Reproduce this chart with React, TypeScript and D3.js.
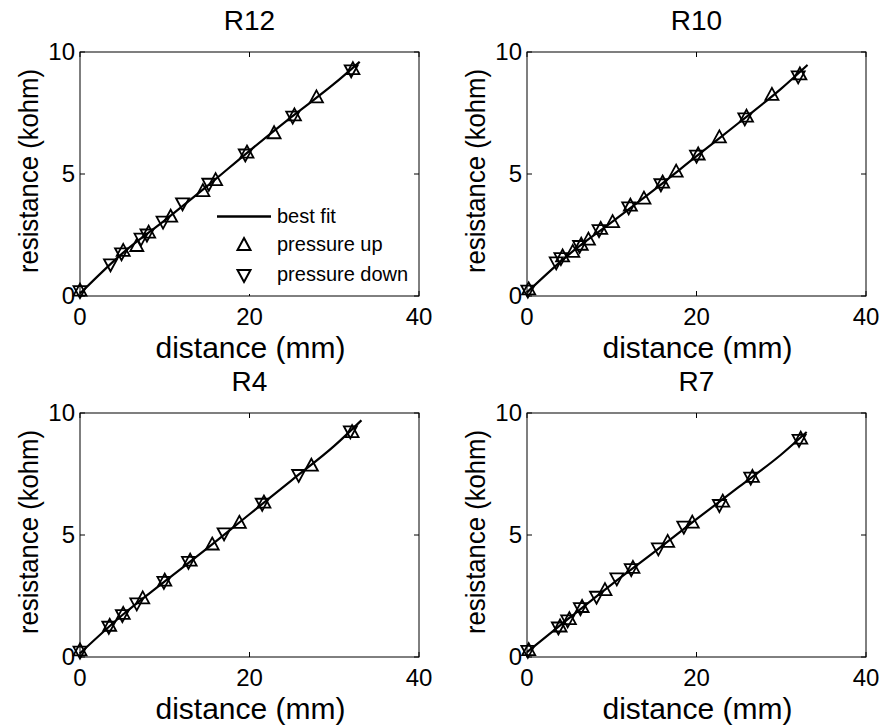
import React from 'react';
import * as d3 from 'd3';

// ---- data ----
const titles = ['R12', 'R10', 'R4', 'R7'];
const xTicks = [0, 20, 40];
const yTicks = [0, 5, 10];
const xLabel = 'distance (mm)';
const yLabel = 'resistance (kohm)';
const legendLabels = ['best fit', 'pressure up', 'pressure down'];

// R12
const r12UpX = [0, 5.1, 6.7, 8.1, 10.7, 14.5, 16.0, 19.7, 22.9, 25.3, 27.9, 32.2];
const r12UpY = [0.22, 1.85, 2.05, 2.6, 3.25, 4.3, 4.75, 5.88, 6.67, 7.4, 8.14, 9.3];
const r12DownX = [0, 3.6, 4.9, 7.2, 7.9, 9.8, 12.1, 15.2, 19.5, 25.1, 32.0];
const r12DownY = [0.2, 1.3, 1.75, 2.35, 2.52, 3.05, 3.8, 4.6, 5.8, 7.35, 9.25];
const r12FitX = [0, 5, 10, 15, 20, 25, 30, 33];
const r12FitY = [0.1, 1.75, 3.1, 4.5, 5.95, 7.35, 8.7, 9.6];

// R10
const r10UpX = [0.2, 4.2, 5.4, 6.4, 7.25, 8.7, 10.1, 12.2, 13.8, 16.0, 17.6, 20.2, 22.7, 25.9, 28.9, 32.2];
const r10UpY = [0.27, 1.62, 1.81, 2.1, 2.31, 2.75, 3.03, 3.7, 3.99, 4.65, 5.1, 5.8, 6.5, 7.35, 8.24, 9.08];
const r10DownX = [0.1, 3.45, 4.0, 6.2, 8.5, 12.0, 15.8, 20.0, 25.7, 32.0];
const r10DownY = [0.22, 1.38, 1.55, 2.05, 2.7, 3.63, 4.58, 5.75, 7.28, 9.0];
const r10FitX = [0, 5, 10, 15, 20, 25, 30, 33.1];
const r10FitY = [0.15, 1.72, 3.03, 4.35, 5.73, 7.1, 8.5, 9.47];

// R4
const r4UpX = [0, 3.5, 5.1, 7.4, 10.0, 13.0, 15.6, 18.8, 21.7, 27.3, 32.1];
const r4UpY = [0.27, 1.28, 1.77, 2.4, 3.13, 3.95, 4.61, 5.5, 6.33, 7.84, 9.22];
const r4DownX = [0, 3.4, 5.0, 6.7, 9.9, 12.8, 17.0, 21.5, 25.8, 31.9];
const r4DownY = [0.22, 1.24, 1.72, 2.2, 3.08, 3.9, 5.07, 6.28, 7.46, 9.25];
const r4FitX = [0, 5, 10, 15, 20, 25, 30, 33.2];
const r4FitY = [0.15, 1.72, 3.1, 4.45, 5.85, 7.25, 8.65, 9.7];

// R7
const r7UpX = [0.2, 3.9, 5.0, 6.5, 9.2, 12.5, 16.6, 19.5, 23.1, 26.6, 32.3];
const r7UpY = [0.28, 1.25, 1.55, 2.05, 2.74, 3.65, 4.72, 5.51, 6.37, 7.38, 8.95];
const r7DownX = [0.1, 3.7, 4.8, 6.3, 8.2, 10.6, 12.3, 15.5, 18.5, 22.7, 26.4, 32.1];
const r7DownY = [0.25, 1.21, 1.5, 2.0, 2.47, 3.22, 3.6, 4.45, 5.34, 6.23, 7.35, 8.9];
const r7FitX = [0, 5, 10, 15, 20, 25, 30, 33];
const r7FitY = [0.2, 1.6, 2.98, 4.3, 5.65, 6.97, 8.3, 9.22];

const panelsData = [
  { upX: r12UpX, upY: r12UpY, downX: r12DownX, downY: r12DownY, fitX: r12FitX, fitY: r12FitY },
  { upX: r10UpX, upY: r10UpY, downX: r10DownX, downY: r10DownY, fitX: r10FitX, fitY: r10FitY },
  { upX: r4UpX, upY: r4UpY, downX: r4DownX, downY: r4DownY, fitX: r4FitX, fitY: r4FitY },
  { upX: r7UpX, upY: r7UpY, downX: r7DownX, downY: r7DownY, fitX: r7FitX, fitY: r7FitY },
];

// ---- layout ----
const W = 887;
const H = 725;
const lefts = [80, 527];
const tops = [52, 413];
const PW = 339;
const PH = 244;
const FONT = '"Liberation Sans", Arial, Helvetica, sans-serif';

const upPath = 'M0,-7L6.5,5L-6.5,5Z';
const downPath = 'M0,7L6.5,-5L-6.5,-5Z';

function Panel({ idx }: { idx: number }) {
  const col = idx % 2;
  const row = Math.floor(idx / 2);
  const x0 = lefts[col];
  const y0 = tops[row];
  const d = panelsData[idx];
  const x = d3.scaleLinear().domain([0, 40]).range([x0, x0 + PW]);
  const y = d3.scaleLinear().domain([0, 10]).range([y0 + PH, y0]);
  const fitPts: [number, number][] = d.fitX.map((v, i) => [v, d.fitY[i]]);
  const line = d3
    .line<[number, number]>()
    .x((p) => x(p[0]))
    .y((p) => y(p[1]))
    .curve(d3.curveMonotoneX);
  const tl = 5;
  return (
    <g>
      <text x={x0 + PW / 2} y={y0 - 22} textAnchor="middle" fontSize={28} fontFamily={FONT}>
        {titles[idx]}
      </text>
      {/* box */}
      <rect x={x0} y={y0} width={PW} height={PH} fill="none" stroke="#000" strokeWidth={1} />
      {/* ticks */}
      {xTicks.map((t) => (
        <g key={'xt' + t}>
          <line x1={x(t)} x2={x(t)} y1={y0 + PH} y2={y0 + PH - tl} stroke="#000" />
          <line x1={x(t)} x2={x(t)} y1={y0} y2={y0 + tl} stroke="#000" />
          <text x={x(t)} y={y0 + PH + 29} textAnchor="middle" fontSize={24} fontFamily={FONT}>
            {t}
          </text>
        </g>
      ))}
      {yTicks.map((t) => (
        <g key={'yt' + t}>
          <line x1={x0} x2={x0 + tl} y1={y(t)} y2={y(t)} stroke="#000" />
          <line x1={x0 + PW} x2={x0 + PW - tl} y1={y(t)} y2={y(t)} stroke="#000" />
          <text x={x0 - 5} y={y(t) + 8} textAnchor="end" fontSize={24} fontFamily={FONT}>
            {t}
          </text>
        </g>
      ))}
      {/* axis labels */}
      <text x={x0 + PW / 2 + 1} y={y0 + PH + 62} textAnchor="middle" fontSize={30} fontFamily={FONT}>
        {xLabel}
      </text>
      <text
        transform={`translate(${x0 - 42},${y0 + PH / 2 - 3}) rotate(-90)`}
        textAnchor="middle"
        fontSize={28}
        fontFamily={FONT}
        textLength={204}
        lengthAdjust="spacingAndGlyphs"
      >
        {yLabel}
      </text>
      {/* fit line */}
      <path d={line(fitPts) || ''} fill="none" stroke="#000" strokeWidth={2.2} />
      {/* markers */}
      {d.upX.map((v, i) => (
        <path
          key={'u' + i}
          d={upPath}
          transform={`translate(${x(v)},${y(d.upY[i])})`}
          fill="none"
          stroke="#000"
          strokeWidth={1.8}
        />
      ))}
      {d.downX.map((v, i) => (
        <path
          key={'d' + i}
          d={downPath}
          transform={`translate(${x(v)},${y(d.downY[i])})`}
          fill="none"
          stroke="#000"
          strokeWidth={1.8}
        />
      ))}
      {idx === 0 && (
        <g fontFamily={FONT} fontSize={20}>
          <rect x={x0 + 130} y={y0 + 150} width={206} height={92} fill="#fff" />
          <line x1={x0 + 137} x2={x0 + 191} y1={y0 + 164.5} y2={y0 + 164.5} stroke="#000" strokeWidth={2.5} />
          <text x={x0 + 197} y={y0 + 171}>{legendLabels[0]}</text>
          <path d={upPath} transform={`translate(${x0 + 164},${y0 + 193})`} fill="none" stroke="#000" strokeWidth={2} />
          <text x={x0 + 197} y={y0 + 199}>{legendLabels[1]}</text>
          <path d={downPath} transform={`translate(${x0 + 164},${y0 + 223})`} fill="none" stroke="#000" strokeWidth={2} />
          <text x={x0 + 197} y={y0 + 229}>{legendLabels[2]}</text>
        </g>
      )}
    </g>
  );
}

export default function App() {
  return (
    <svg
      width={W}
      height={H}
      viewBox={`0 0 ${W} ${H}`}
      style={{ position: 'absolute', left: 0, top: 0, background: '#fff' }}
    >
      <rect width={W} height={H} fill="#fff" />
      {[0, 1, 2, 3].map((i) => (
        <Panel key={i} idx={i} />
      ))}
    </svg>
  );
}
